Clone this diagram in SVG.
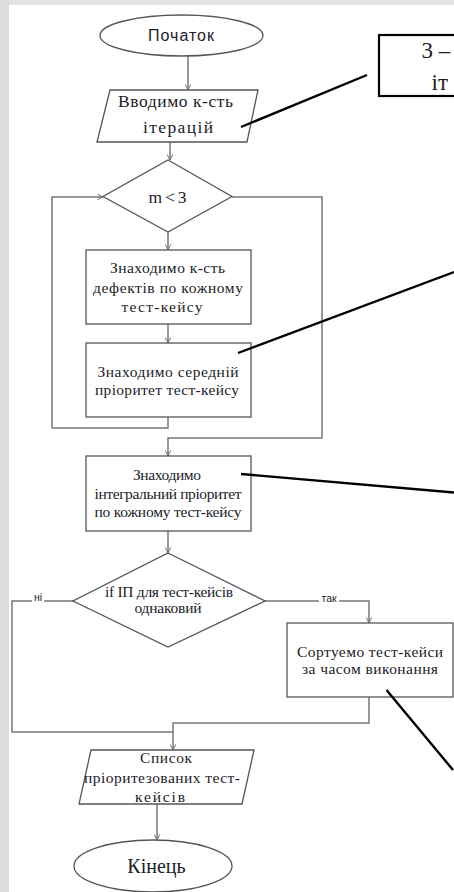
<svg xmlns="http://www.w3.org/2000/svg" width="454" height="892" viewBox="0 0 454 892">
<defs>
<marker id="arr" viewBox="0 0 10 10" refX="9" refY="5" markerWidth="7" markerHeight="7" markerUnits="userSpaceOnUse" orient="auto">
<path d="M1,1 L9,5 L1,9" fill="none" stroke="#6f6f6f" stroke-width="1.4"/>
</marker>
</defs>
<style>
.shape{fill:#fff;stroke:#555;stroke-width:1.3}
.conn{fill:none;stroke:#777;stroke-width:1.5}
.ann{fill:none;stroke:#000;stroke-width:2.4}
.t{font-family:"Liberation Serif","Times New Roman",serif;font-size:15.5px;fill:#1c1c28;text-anchor:middle}
.big{font-size:17.5px}
.end{font-size:20px}
.note{font-family:"Liberation Serif","Times New Roman",serif;font-size:23px;fill:#1c1c28}
.s{font-family:"Liberation Sans",Arial,sans-serif;fill:#1c1c28;text-anchor:middle;font-size:10.5px}
.s15{font-size:16px}
</style>
<rect x="0" y="0" width="454" height="892" fill="#fff"/>
<rect x="0" y="0" width="454" height="5" fill="#e2e2e2"/>
<rect x="0" y="0" width="9" height="892" fill="#dcdcdc"/>

<g id="connectors">
<line class="conn" x1="188" y1="56" x2="188" y2="90" marker-end="url(#arr)"/>
<line class="conn" x1="170" y1="142" x2="170" y2="160" marker-end="url(#arr)"/>
<line class="conn" x1="168" y1="232" x2="168" y2="250" marker-end="url(#arr)"/>
<line class="conn" x1="168" y1="324" x2="168" y2="343" marker-end="url(#arr)"/>
<path class="conn" d="M168,417 V428 H52 V197 H103" marker-end="url(#arr)"/>
<path class="conn" d="M232,197 H322 V438 H168 V456" marker-end="url(#arr)"/>
<line class="conn" x1="168" y1="531" x2="168" y2="553" marker-end="url(#arr)"/>
<path class="conn" d="M73,601 H12 V732 H173"/>
<path class="conn" d="M265,601 H369 V623" marker-end="url(#arr)"/>
<path class="conn" d="M369,697 V723 H173 V750" marker-end="url(#arr)"/>
<line class="conn" x1="157" y1="804" x2="157" y2="840" marker-end="url(#arr)"/>
<rect x="32" y="592" width="12" height="11" fill="#fff"/>
<text class="s" x="38" y="601">ні</text>
<rect x="319" y="593" width="20" height="11" fill="#fff"/>
<text class="s" x="329" y="602">так</text>
</g>

<g id="start">
<ellipse class="shape" cx="181.5" cy="35.5" rx="81.5" ry="20.5"/>
<text class="s s15" x="181" y="41" textLength="66">Початок</text>
</g>
<g id="input">
<polygon class="shape" points="110,90 258,90 247,142 97,142"/>
<text class="t big" x="175.5" y="107" textLength="115">Вводимо к-сть</text>
<text class="t big" x="178" y="133" textLength="70">ітерацій</text>
</g>
<g id="loop">
<polygon class="shape" points="168,160 232,196.5 168,232 103,196.5"/>
<text class="t big" x="167.5" y="203" textLength="38">m&lt;3</text>
</g>
<g id="defects">
<rect class="shape" x="86" y="250" width="165" height="74"/>
<text class="t" x="167.5" y="273" textLength="115">Знаходимо к-сть</text>
<text class="t" x="168" y="292.5" textLength="150">дефектів по кожному</text>
<text class="t" x="162" y="311.5" textLength="81">тест-кейсу</text>
</g>
<g id="avg">
<rect class="shape" x="86" y="343" width="165" height="74"/>
<text class="t" x="168" y="376.5" textLength="141">Знаходимо середній</text>
<text class="t" x="167" y="395" textLength="144">пріоритет тест-кейсу</text>
</g>
<g id="integral">
<rect class="shape" x="86" y="456" width="165" height="75"/>
<text class="t" x="167" y="480" textLength="68">Знаходимо</text>
<text class="t" x="168" y="498.5" textLength="147">інтегральний пріоритет</text>
<text class="t" x="168" y="517" textLength="147">по кожному тест-кейсу</text>
</g>
<g id="check">
<polygon class="shape" points="168,553 265,601 168,647 73,601"/>
<text class="t" x="169" y="596.5" textLength="128">if ІП для тест-кейсів</text>
<text class="t" x="168" y="612.5" textLength="67">однаковий</text>
</g>
<g id="sort">
<rect class="shape" x="287" y="623" width="166" height="74"/>
<text class="t" x="370" y="656.5" textLength="146">Сортуемо тест-кейси</text>
<text class="t" x="370" y="673.5" textLength="136">за часом виконання</text>
</g>
<g id="output">
<polygon class="shape" points="91,750 254,750 242,804 79,804"/>
<text class="t" x="166" y="763" textLength="52">Список</text>
<text class="t" x="162" y="783" textLength="156">пріоритезованих тест-</text>
<text class="t" x="160" y="801.5" textLength="50">кейсів</text>
</g>
<g id="end">
<ellipse class="shape" cx="153" cy="866" rx="79" ry="26"/>
<text class="t end" x="156.5" y="873">Кінець</text>
</g>

<g id="annotations">
<rect x="379" y="35" width="90" height="61" fill="#fff" stroke="#000" stroke-width="2.2"/>
<text class="note" x="421.5" y="58">3 –</text>
<text class="note" x="431.5" y="90">іт</text>
<line class="ann" x1="241" y1="127" x2="367" y2="75"/>
<line class="ann" x1="238" y1="353" x2="454" y2="272"/>
<line class="ann" x1="241" y1="474" x2="454" y2="492.5"/>
<line class="ann" x1="386.5" y1="690" x2="453" y2="770"/>
</g>
</svg>
